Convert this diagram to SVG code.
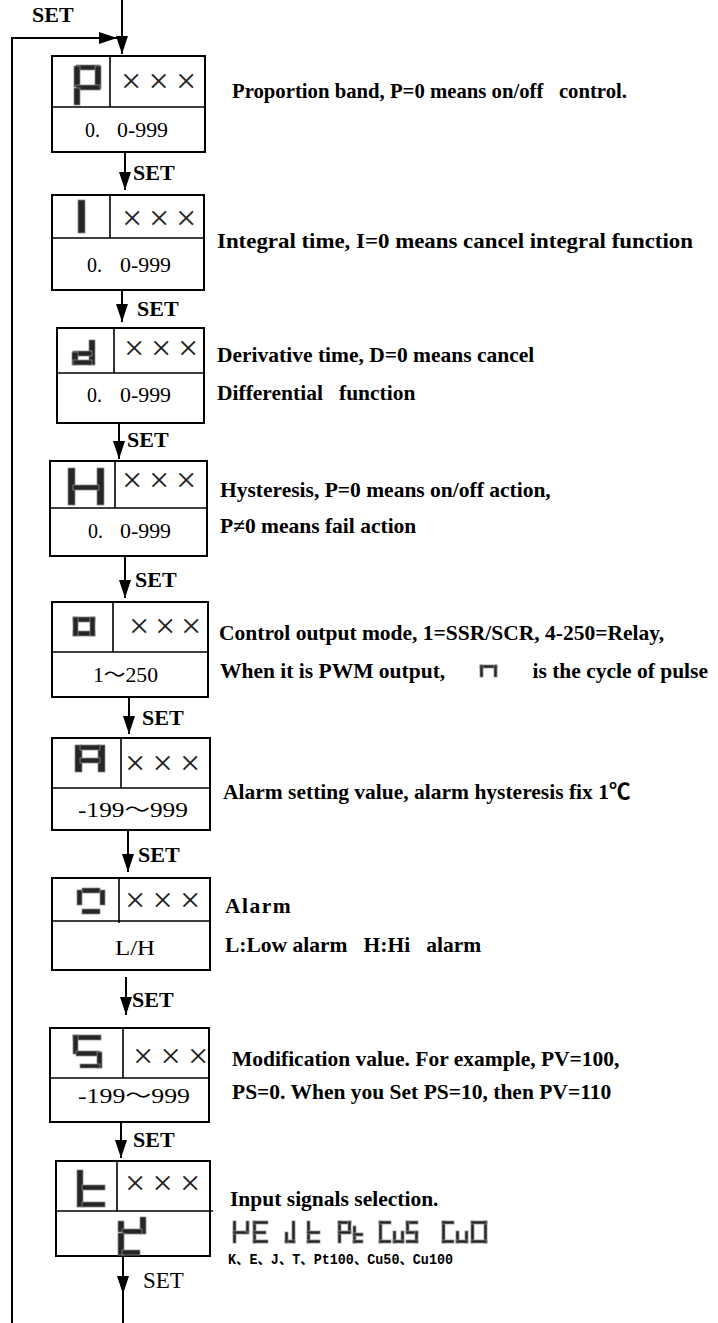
<svg xmlns="http://www.w3.org/2000/svg" width="718" height="1323" viewBox="0 0 718 1323">
<style>
.box{fill:#fff;stroke:#000;stroke-width:2}
.dv{stroke:#000;stroke-width:1.6;fill:none}
.desc{font-family:"Liberation Serif","Noto Sans CJK SC",serif;font-weight:bold;font-size:21.5px;fill:#000}
.val{font-family:"Liberation Serif","Noto Sans CJK SC",serif;font-size:20px;fill:#000}
.xx{font-family:"Liberation Serif",serif;font-size:36px;fill:#222}
.set{font-family:"Liberation Serif",serif;font-weight:bold;font-size:22px;fill:#000}
.setr{font-family:"Liberation Serif",serif;font-size:23px;fill:#000}
.mono{font-family:"Liberation Mono","Noto Sans CJK SC",monospace;font-weight:bold;font-size:14px;fill:#000}
.seg{fill:#262626;stroke:#8a8a8a;stroke-width:0.8}
.conn{stroke:#000;stroke-width:2;fill:none}
.arr{marker-end:url(#ah)}
</style>
<defs>
<marker id="ah" markerUnits="userSpaceOnUse" markerWidth="18" markerHeight="12" refX="18" refY="6" orient="auto">
<path d="M0,0 L18,6 L0,12 z" fill="#000"/>
</marker>
</defs>

<g id="connectors">
<line class="conn arr" x1="122" y1="0" x2="122" y2="54"/>
<path class="conn arr" d="M12,1323 V38 H117"/>
<line class="conn arr" x1="125" y1="152" x2="125" y2="190"/>
<line class="conn arr" x1="122" y1="290" x2="122" y2="322"/>
<line class="conn arr" x1="119" y1="423" x2="119" y2="459"/>
<line class="conn arr" x1="125" y1="556" x2="125" y2="598"/>
<line class="conn arr" x1="129" y1="697" x2="129" y2="734"/>
<line class="conn arr" x1="128" y1="830" x2="128" y2="872"/>
<line class="conn arr" x1="126" y1="977" x2="126" y2="1015"/>
<line class="conn arr" x1="121" y1="1122" x2="121" y2="1158"/>
<line class="conn arr" x1="123" y1="1256" x2="123" y2="1294"/>
<line class="conn" x1="123" y1="1292" x2="123" y2="1323"/>
<text class="set" x="32" y="22">SET</text>
<text class="set" x="133" y="180">SET</text>
<text class="set" x="137" y="316">SET</text>
<text class="set" x="127" y="447">SET</text>
<text class="set" x="135" y="587">SET</text>
<text class="set" x="142" y="725">SET</text>
<text class="set" x="138" y="862">SET</text>
<text class="set" x="132" y="1007">SET</text>
<text class="set" x="133" y="1147">SET</text>
<text class="setr" x="143" y="1288">SET</text>
</g>

<g id="node-p">
<rect class="box" x="52" y="56" width="153" height="96"/>
<line class="dv" x1="52" y1="107" x2="205" y2="107"/>
<line class="dv" x1="110" y1="56" x2="110" y2="107"/>
<rect class="seg" x="76" y="65" width="24" height="5"/>
<rect class="seg" x="74" y="66" width="6" height="21"/>
<rect class="seg" x="95" y="66" width="6" height="23"/>
<rect class="seg" x="76" y="85" width="24" height="5"/>
<rect class="seg" x="74" y="88" width="6" height="17"/>
<text class="xx" x="121 148.5 176" y="93">×××</text>
<text class="val" x="85" y="137">0.<tspan x="117" textLength="51" lengthAdjust="spacingAndGlyphs">0-999</tspan></text>
<text class="desc" x="232" y="98" xml:space="preserve" textLength="395" lengthAdjust="spacingAndGlyphs">Proportion band, P=0 means on/off   control.</text>
</g>

<g id="node-i">
<rect class="box" x="52" y="195" width="152" height="95"/>
<line class="dv" x1="52" y1="238" x2="204" y2="238"/>
<line class="dv" x1="110" y1="195" x2="110" y2="238"/>
<rect class="seg" x="78" y="200" width="7" height="33"/>
<text class="xx" x="122 149 176" y="230">×××</text>
<text class="val" x="87" y="272">0.<tspan x="120" textLength="51" lengthAdjust="spacingAndGlyphs">0-999</tspan></text>
<text class="desc" x="217" y="248" textLength="476" lengthAdjust="spacingAndGlyphs">Integral time, I=0 means cancel integral function</text>
</g>

<g id="node-d">
<rect class="box" x="57" y="328" width="147" height="95"/>
<line class="dv" x1="57" y1="373" x2="204" y2="373"/>
<line class="dv" x1="114" y1="328" x2="114" y2="373"/>
<rect class="seg" x="89" y="340" width="6" height="25"/>
<rect class="seg" x="73" y="351" width="19" height="5"/>
<rect class="seg" x="72" y="352" width="6" height="13"/>
<rect class="seg" x="73" y="360" width="19" height="5"/>
<text class="xx" x="124 151 178" y="360">×××</text>
<text class="val" x="87" y="402">0.<tspan x="120" textLength="51" lengthAdjust="spacingAndGlyphs">0-999</tspan></text>
<text class="desc" x="217" y="362">Derivative time, D=0 means cancel</text>
<text class="desc" x="217" y="400" xml:space="preserve">Differential   function</text>
</g>

<g id="node-h">
<rect class="box" x="50" y="461" width="157" height="95"/>
<line class="dv" x1="50" y1="508" x2="207" y2="508"/>
<line class="dv" x1="115" y1="461" x2="115" y2="508"/>
<rect class="seg" x="68" y="468" width="7" height="37"/>
<rect class="seg" x="97" y="468" width="7" height="37"/>
<rect class="seg" x="73" y="485" width="26" height="5"/>
<text class="xx" x="122 149 176" y="492">×××</text>
<text class="val" x="88" y="538">0.<tspan x="120" textLength="51" lengthAdjust="spacingAndGlyphs">0-999</tspan></text>
<text class="desc" x="220" y="497">Hysteresis, P=0 means on/off action,</text>
<text class="desc" x="220" y="533">P≠0 means fail action</text>
</g>

<g id="node-o">
<rect class="box" x="52" y="602" width="156" height="95"/>
<line class="dv" x1="52" y1="652" x2="208" y2="652"/>
<line class="dv" x1="113" y1="602" x2="113" y2="652"/>
<rect class="seg" x="73" y="617" width="22" height="5"/>
<rect class="seg" x="73" y="631" width="22" height="5"/>
<rect class="seg" x="73" y="617" width="5" height="19"/>
<rect class="seg" x="90" y="617" width="5" height="19"/>
<text class="xx" x="129 155 181" y="638">×××</text>
<text class="val" x="93" y="682" textLength="65" lengthAdjust="spacingAndGlyphs">1～250</text>
<text class="desc" x="219" y="640">Control output mode, 1=SSR/SCR, 4-250=Relay,</text>
<text class="desc" x="220" y="678">When it is PWM output,</text>
<rect class="seg" x="480" y="665" width="17" height="3"/>
<rect class="seg" x="480" y="665" width="3" height="12"/>
<rect class="seg" x="494" y="665" width="3" height="12"/>
<text class="desc" x="708" y="678" text-anchor="end">is the cycle of pulse</text>
</g>

<g id="node-a">
<rect class="box" x="52" y="738" width="158" height="92"/>
<line class="dv" x1="52" y1="788" x2="210" y2="788"/>
<line class="dv" x1="121" y1="738" x2="121" y2="788"/>
<rect class="seg" x="75" y="745" width="7" height="27"/>
<rect class="seg" x="98" y="745" width="7" height="27"/>
<rect class="seg" x="80" y="745" width="20" height="5"/>
<rect class="seg" x="80" y="758" width="20" height="5"/>
<text class="xx" x="125 152.5 180" y="775">×××</text>
<text class="val" x="78" y="817" textLength="110" lengthAdjust="spacingAndGlyphs">-199～999</text>
<text class="desc" x="223" y="799">Alarm setting value, alarm hysteresis fix 1℃</text>
</g>

<g id="node-alarm">
<rect class="box" x="52" y="878" width="158" height="92"/>
<line class="dv" x1="52" y1="921" x2="210" y2="921"/>
<line class="dv" x1="119" y1="878" x2="119" y2="923"/>
<rect class="seg" x="82" y="888" width="18" height="5"/>
<rect class="seg" x="77" y="890" width="5" height="15"/>
<rect class="seg" x="100" y="890" width="5" height="15"/>
<rect class="seg" x="82" y="909" width="18" height="5"/>
<text class="xx" x="125 152.5 180" y="912">×××</text>
<text class="val" x="115" y="955" textLength="40" lengthAdjust="spacingAndGlyphs">L/H</text>
<text class="desc" x="225" y="913" letter-spacing="1.5">Alarm</text>
<text class="desc" x="225" y="952" xml:space="preserve">L:Low alarm   H:Hi   alarm</text>
</g>

<g id="node-s">
<rect class="box" x="50" y="1028" width="159" height="94"/>
<line class="dv" x1="50" y1="1078" x2="209" y2="1078"/>
<line class="dv" x1="123" y1="1028" x2="123" y2="1078"/>
<rect class="seg" x="73" y="1035" width="28" height="5"/>
<rect class="seg" x="73" y="1035" width="5" height="19"/>
<rect class="seg" x="76" y="1051" width="24" height="5"/>
<rect class="seg" x="97" y="1052" width="5" height="16"/>
<rect class="seg" x="80" y="1064" width="20" height="4"/>
<text class="xx" x="133 160.5 188" y="1068">×××</text>
<text class="val" x="78" y="1103" textLength="112" lengthAdjust="spacingAndGlyphs">-199～999</text>
<text class="desc" x="232" y="1066">Modification value. For example, PV=100,</text>
<text class="desc" x="232" y="1099">PS=0. When you Set PS=10, then PV=110</text>
</g>

<g id="node-t">
<rect class="box" x="56" y="1161" width="154" height="95"/>
<line class="dv" x1="56" y1="1211" x2="213" y2="1211"/>
<line class="dv" x1="117" y1="1161" x2="117" y2="1211"/>
<rect class="seg" x="77" y="1170" width="6" height="37"/>
<rect class="seg" x="82" y="1185" width="23" height="5"/>
<rect class="seg" x="82" y="1202" width="23" height="5"/>
<text class="xx" x="125 152.5 180" y="1195">×××</text>
<rect class="seg" x="118" y="1221" width="6" height="11"/>
<rect class="seg" x="140" y="1217" width="6" height="17"/>
<rect class="seg" x="122" y="1229" width="20" height="5"/>
<rect class="seg" x="118" y="1233" width="6" height="22"/>
<rect class="seg" x="122" y="1250" width="18" height="5"/>
<text class="desc" x="230" y="1206">Input signals selection.</text>
<g id="sensor-codes">
<rect class="seg" x="233" y="1221" width="3" height="22"/>
<rect class="seg" x="233" y="1231" width="16" height="3"/>
<rect class="seg" x="246" y="1221" width="3" height="11"/>
<rect class="seg" x="253" y="1221" width="3" height="22"/>
<rect class="seg" x="253" y="1221" width="15" height="3"/>
<rect class="seg" x="253" y="1231" width="13" height="3"/>
<rect class="seg" x="253" y="1240" width="15" height="3"/>
<rect class="seg" x="292" y="1221" width="3" height="22"/>
<rect class="seg" x="285" y="1240" width="10" height="3"/>
<rect class="seg" x="285" y="1232" width="3" height="11"/>
<rect class="seg" x="307" y="1221" width="3" height="22"/>
<rect class="seg" x="307" y="1231" width="13" height="3"/>
<rect class="seg" x="307" y="1240" width="13" height="3"/>
<rect class="seg" x="338" y="1221" width="3" height="22"/>
<rect class="seg" x="338" y="1221" width="13" height="3"/>
<rect class="seg" x="348" y="1221" width="3" height="12"/>
<rect class="seg" x="338" y="1231" width="13" height="3"/>
<rect class="seg" x="353" y="1226" width="3" height="17"/>
<rect class="seg" x="353" y="1233" width="10" height="3"/>
<rect class="seg" x="353" y="1240" width="10" height="3"/>
<rect class="seg" x="379" y="1221" width="3" height="22"/>
<rect class="seg" x="379" y="1221" width="12" height="3"/>
<rect class="seg" x="379" y="1240" width="12" height="3"/>
<rect class="seg" x="393" y="1231" width="3" height="12"/>
<rect class="seg" x="401" y="1231" width="3" height="12"/>
<rect class="seg" x="393" y="1240" width="11" height="3"/>
<rect class="seg" x="406" y="1221" width="12" height="3"/>
<rect class="seg" x="406" y="1221" width="3" height="12"/>
<rect class="seg" x="406" y="1231" width="12" height="3"/>
<rect class="seg" x="415" y="1231" width="3" height="12"/>
<rect class="seg" x="406" y="1240" width="12" height="3"/>
<rect class="seg" x="442" y="1221" width="3" height="22"/>
<rect class="seg" x="442" y="1221" width="12" height="3"/>
<rect class="seg" x="442" y="1240" width="12" height="3"/>
<rect class="seg" x="456" y="1231" width="3" height="12"/>
<rect class="seg" x="465" y="1231" width="3" height="12"/>
<rect class="seg" x="456" y="1240" width="12" height="3"/>
<rect class="seg" x="471" y="1221" width="3" height="22"/>
<rect class="seg" x="484" y="1221" width="3" height="22"/>
<rect class="seg" x="471" y="1221" width="16" height="3"/>
<rect class="seg" x="471" y="1240" width="16" height="3"/>
</g>
<text class="mono" x="228" y="1264" textLength="225" lengthAdjust="spacingAndGlyphs">K、E、J、T、Pt100、Cu50、Cu100</text>
</g>
</svg>
